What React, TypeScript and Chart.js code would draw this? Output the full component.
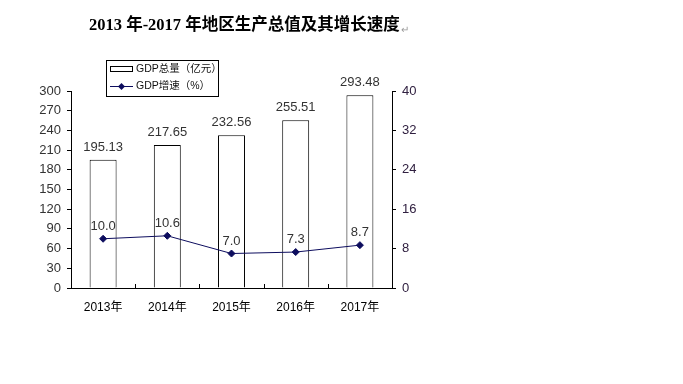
import React, { useEffect, useRef } from "react";
import { Chart, registerables } from "chart.js";

Chart.register(...registerables);

const categories = ["2013年", "2014年", "2015年", "2016年", "2017年"];
const gdpTotal = [195.13, 217.65, 232.56, 255.51, 293.48];
const gdpGrowth = [10.0, 10.6, 7.0, 7.3, 8.7];
const leftTicks = [0, 30, 60, 90, 120, 150, 180, 210, 240, 270, 300];
const rightTicks = [0, 8, 16, 24, 32, 40];
const titleText = "2013 年-2017 年地区生产总值及其增长速度";
const legendLabels = ["GDP总量（亿元）", "GDP增速（%）"];

const LINE_COLOR = "#0d0d5e";
const FONT = "'Liberation Sans', 'Noto Sans CJK SC', sans-serif";

const decorPlugin = {
  id: "decor",
  afterDraw(chart: any) {
    const ctx = chart.ctx;
    const area = chart.chartArea;
    ctx.save();
    // title
    ctx.font = "bold 16.5px 'Liberation Serif', 'Noto Sans CJK SC', serif";
    ctx.fillStyle = "#000";
    ctx.textAlign = "left";
    ctx.textBaseline = "middle";
    ctx.fillText(titleText, 89, 26);
    const tw = ctx.measureText(titleText).width;
    ctx.font = "10px 'Liberation Sans', sans-serif";
    ctx.fillStyle = "#999";
    ctx.fillText("↵", 89 + tw + 1, 30);

    // x-axis inner ticks at category boundaries
    const xs = chart.scales.x;
    ctx.strokeStyle = "#000";
    ctx.lineWidth = 1;
    for (let i = 1; i < categories.length; i++) {
      const x = Math.round((xs.getPixelForValue(i - 1) + xs.getPixelForValue(i)) / 2) + 0.5;
      ctx.beginPath();
      ctx.moveTo(x, area.bottom);
      ctx.lineTo(x, area.bottom - 4);
      ctx.stroke();
    }

    // value labels
    ctx.font = "13px " + FONT;
    ctx.fillStyle = "#333";
    ctx.textAlign = "center";
    ctx.textBaseline = "bottom";
    const barMeta = chart.getDatasetMeta(0);
    barMeta.data.forEach((el: any, i: number) => {
      ctx.fillText(gdpTotal[i].toFixed(2), el.x, el.y - 6);
    });
    const lineMeta = chart.getDatasetMeta(1);
    lineMeta.data.forEach((el: any, i: number) => {
      ctx.fillText(gdpGrowth[i].toFixed(1), el.x, el.y - 6);
    });

    // legend
    const lx = 106, ly = 60, lw = 112, lh = 36;
    ctx.fillStyle = "#fff";
    ctx.fillRect(lx, ly, lw, lh);
    ctx.strokeStyle = "#000";
    ctx.strokeRect(lx + 0.5, ly + 0.5, lw, lh);
    // item 1
    ctx.strokeRect(110.5, 66.5, 22, 5);
    ctx.font = "10.5px " + FONT;
    ctx.fillStyle = "#111";
    ctx.textAlign = "left";
    ctx.textBaseline = "middle";
    ctx.fillText(legendLabels[0], 136, 69);
    // item 2
    ctx.strokeStyle = LINE_COLOR;
    ctx.beginPath();
    ctx.moveTo(110, 86.5);
    ctx.lineTo(133, 86.5);
    ctx.stroke();
    ctx.fillStyle = LINE_COLOR;
    ctx.beginPath();
    ctx.moveTo(121.5, 83);
    ctx.lineTo(125, 86.5);
    ctx.lineTo(121.5, 90);
    ctx.lineTo(118, 86.5);
    ctx.closePath();
    ctx.fill();
    ctx.fillStyle = "#111";
    ctx.fillText(legendLabels[1], 136, 86);
    ctx.restore();
  },
};

export default function App() {
  const ref = useRef<HTMLCanvasElement>(null);
  useEffect(() => {
    const chart = new Chart(ref.current!, {
      type: "bar",
      data: {
        labels: categories,
        datasets: [
          {
            type: "bar",
            label: legendLabels[0],
            data: gdpTotal,
            backgroundColor: "#fff",
            borderColor: "#000",
            borderWidth: 1,
            barPercentage: 0.42,
            categoryPercentage: 1,
            yAxisID: "y",
            order: 2,
          },
          {
            type: "line",
            label: legendLabels[1],
            data: gdpGrowth,
            borderColor: LINE_COLOR,
            backgroundColor: LINE_COLOR,
            borderWidth: 1,
            pointStyle: "rectRot",
            pointRadius: 3.5,
            yAxisID: "y1",
            order: 1,
          } as any,
        ],
      },
      options: {
        animation: false,
        responsive: false,
        maintainAspectRatio: false,
        layout: { padding: { top: 91, left: 0, right: 0, bottom: 0 } },
        plugins: {
          legend: { display: false },
          title: { display: false },
          tooltip: { enabled: false },
        },
        scales: {
          x: {
            offset: true,
            grid: { display: false, drawOnChartArea: false },
            border: { display: true, color: "#000", width: 1 },
            ticks: {
              color: "#000",
              font: { size: 12, family: FONT },
              padding: 4,
              maxRotation: 0,
            },
            afterFit: (s: any) => {
              s.height = 96;
            },
          },
          y: {
            position: "left",
            min: 0,
            max: 300,
            afterBuildTicks: (s: any) => {
              s.ticks = leftTicks.map((v) => ({ value: v }));
            },
            grid: {
              drawOnChartArea: false,
              drawTicks: true,
              tickLength: 4,
              color: "#000",
            },
            border: { display: true, color: "#000", width: 1 },
            ticks: {
              color: "#333",
              font: { size: 13, family: FONT },
              padding: 6,
            },
            afterFit: (s: any) => {
              s.width = 71;
            },
          },
          y1: {
            position: "right",
            min: 0,
            max: 40,
            afterBuildTicks: (s: any) => {
              s.ticks = rightTicks.map((v) => ({ value: v }));
            },
            grid: {
              drawOnChartArea: false,
              drawTicks: true,
              tickLength: 4,
              color: "#000",
            },
            border: { display: true, color: "#000", width: 1 },
            ticks: {
              color: "#302040",
              font: { size: 13, family: FONT },
              padding: 6,
            },
            afterFit: (s: any) => {
              s.width = 291;
            },
          },
        },
      },
      plugins: [decorPlugin],
    });
    return () => chart.destroy();
  }, []);
  return (
    <div style={{ position: "fixed", left: 0, top: 0, width: 683, height: 384, background: "#fff" }}>
      <canvas ref={ref} width={683} height={384} style={{ display: "block" }} />
    </div>
  );
}
